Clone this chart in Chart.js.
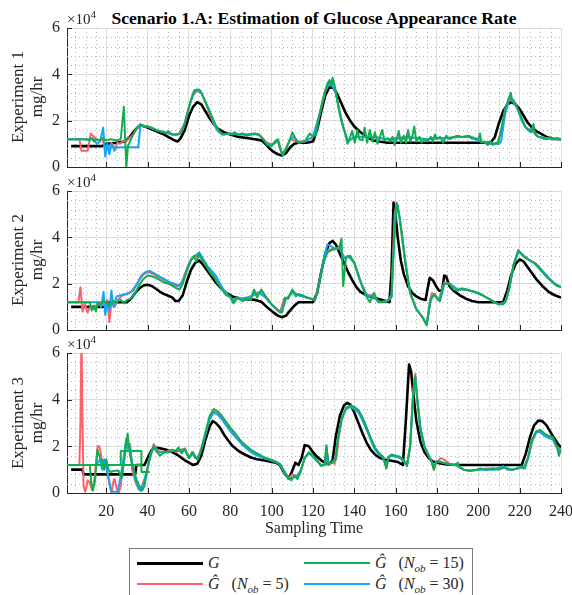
<!DOCTYPE html>
<html>
<head>
<meta charset="utf-8">
<script src="https://cdn.jsdelivr.net/npm/chart.js@4.4.1/dist/chart.umd.min.js"></script>
<style>
  html, body { margin: 0; padding: 0; background: #fff; }
  #wrap { position: relative; width: 572px; height: 595px; overflow: hidden;
          font-family: 'Liberation Serif', 'Times New Roman', serif; color: #262626; }
  canvas.panel { position: absolute; left: 0; }
  .title { position: absolute; left: 67px; width: 494px; top: 10px; text-align: center;
           font-weight: bold; font-size: 17.6px; line-height: 17px; color: #000; }
  .exp { position: absolute; left: 67px; font-size: 15px; line-height: 15px; }
  .exp sup { font-size: 11px; vertical-align: 6px; line-height: 0; }
  .ylab { position: absolute; width: 139px; height: 38px; text-align: center;
          font-size: 17px; line-height: 19px; transform: rotate(-90deg); transform-origin: center; }
  .xlab { position: absolute; left: 67px; width: 494px; top: 520px; text-align: center;
          font-size: 16px; line-height: 16px; }
  #legend { position: absolute; left: 129px; top: 548px; width: 342px; height: 50px;
            border: 1px solid #7a7a7a; background: #fff; font-size: 16px; }
  .li { position: absolute; height: 18px; line-height: 18px; }
  .li span.sw { position: absolute; left: 0; width: 66px; top: 8px; }
  .li span.tx { position: absolute; left: 71px; white-space: nowrap; }
  .li sub { font-size: 11px; line-height: 0; }
</style>
</head>
<body>
<div id="wrap">
  <div class="title">Scenario 1.A: Estimation of Glucose Appearance Rate</div>

  <canvas id="exp1" class="panel" width="572" height="180" style="top:0px"></canvas>
  <canvas id="exp2" class="panel" width="572" height="160" style="top:180px"></canvas>
  <canvas id="exp3" class="panel" width="572" height="200" style="top:340px"></canvas>

  <div class="exp" style="top:12px">&times;10<sup>4</sup></div>
  <div class="exp" style="top:175px">&times;10<sup>4</sup></div>
  <div class="exp" style="top:337px">&times;10<sup>4</sup></div>

  <div class="ylab" style="left:-43px; top:78px">Experiment 1<br>mg/hr</div>
  <div class="ylab" style="left:-43px; top:241px">Experiment 2<br>mg/hr</div>
  <div class="ylab" style="left:-43px; top:404px">Experiment 3<br>mg/hr</div>

  <div class="xlab">Sampling Time</div>

  <div id="legend">
    <div class="li" style="left:7px; top:5px"><span class="sw" style="border-top:3px solid #000"></span><span class="tx"><i>G</i></span></div>
    <div class="li" style="left:7px; top:26px"><span class="sw" style="border-top:2px solid #ff5f66"></span><span class="tx"><i>Ĝ</i>&nbsp;&nbsp;&nbsp;(<i>N</i><sub><i>ob</i></sub> = 5)</span></div>
    <div class="li" style="left:174px; top:5px"><span class="sw" style="border-top:2px solid #0fae4f"></span><span class="tx"><i>Ĝ</i>&nbsp;&nbsp;&nbsp;(<i>N</i><sub><i>ob</i></sub> = 15)</span></div>
    <div class="li" style="left:174px; top:26px"><span class="sw" style="border-top:2px solid #14a5f5"></span><span class="tx"><i>Ĝ</i>&nbsp;&nbsp;&nbsp;(<i>N</i><sub><i>ob</i></sub> = 30)</span></div>
  </div>
</div>

<script>
"use strict";

// Axis ticks (values in units of 10^4 mg/hr)
const xTickValues = [20, 40, 60, 80, 100, 120, 140, 160, 180, 200, 220, 240];
const yTickValues = [0, 2, 4, 6];

// Experiment 1: [sampling time, rate x1e4]
const exp1Truth = [[3,0.9],[18,0.9],[20,1.0],[25,1.05],[29,1.1],[31,1.25],[33,1.5],[35,1.7],[37,1.8],[40,1.7],[44,1.55],[48,1.4],[51,1.25],[53,1.15],[54.5,1.1],[56,1.25],[58,1.6],[60,2.2],[62,2.6],[64,2.8],[66,2.7],[68,2.4],[70,2.1],[72,1.85],[74,1.65],[77,1.5],[80,1.4],[84,1.3],[88,1.25],[92,1.2],[95,1.15],[97,1.0],[99,0.8],[101,0.65],[103,0.55],[105,0.5],[107,0.6],[109,0.85],[111,1.0],[113,1.05],[117,1.05],[120,1.1],[122,1.6],[124,2.4],[126,3.1],[128,3.45],[130,3.4],[132,3.1],[134,2.7],[136,2.3],[138,2.0],[140,1.75],[143,1.5],[146,1.3],[149,1.15],[152,1.1],[156,1.05],[206,1.05],[208,1.3],[210,1.9],[212,2.4],[214,2.7],[216,2.8],[218,2.7],[220,2.5],[222,2.2],[224,1.9],[226,1.7],[228,1.55],[230,1.45],[233,1.3],[236,1.22],[240,1.2]];
const exp1Nob5 = [[1,1.2],[7,1.2],[8,0.7],[11,0.7],[12.5,1.45],[14,1.3],[16,1.15],[18,1.2],[19.5,0.85],[21,0.8],[22.5,1.05],[24,0.8],[25.5,1.05],[26.5,1.0],[28,1.1],[30,1.15],[33,1.4],[35,1.7],[37,1.8],[40,1.75],[44,1.6],[48,1.5],[52,1.4],[55,1.4],[58,1.9],[60,2.6],[62,3.1],[64,3.3],[66,3.2],[68,2.8],[70,2.3],[72,1.85],[74,1.55],[76,1.4],[80,1.45],[85,1.4],[90,1.4],[94,1.4],[97,1.1],[100,0.95],[102,1.05],[103.5,1.1],[105,0.55],[107,0.8],[109,1.2],[112,1.1],[116,1.1],[120,1.3],[123,2.2],[126,3.3],[128.5,3.7],[131,3.2],[133,2.4],[135,1.6],[137,1.1],[140,1.3],[145,1.3],[150,1.3],[155,1.2],[160,1.25],[165,1.3],[170,1.25],[175,1.2],[180,1.25],[185,1.25],[190,1.3],[195,1.3],[200,1.15],[205,1.0],[209,1.0],[211,1.5],[213,2.5],[215,3.0],[217,2.8],[219,2.5],[221,2.1],[223,1.7],[225,1.6],[227,1.5],[229,1.3],[233,1.25],[236,1.2],[240,1.2]];
const exp1Nob15 = [[1,1.2],[10,1.2],[12,1.15],[13,1.25],[14,1.1],[15,1.2],[17,1.15],[18,1.25],[20,1.15],[22,1.2],[25,1.15],[27,1.2],[28.5,2.6],[29.7,0.0],[30.5,0.9],[32,1.2],[33,1.4],[35,1.7],[36.5,1.85],[38,1.75],[40,1.75],[42,1.7],[44,1.6],[46,1.55],[48,1.5],[49,1.45],[50,1.55],[52,1.4],[54,1.4],[56,1.45],[57,1.6],[59,2.2],[61,2.9],[62.5,3.3],[64,3.35],[65.5,3.3],[67,3.0],[69,2.6],[71,2.2],[73,1.8],[75,1.5],[77,1.4],[79,1.45],[81,1.4],[82,1.5],[84,1.4],[86,1.45],[88,1.35],[90,1.4],[92,1.45],[94,1.4],[96,1.2],[98,0.95],[100,0.9],[101.5,1.1],[103,1.2],[104,0.8],[105.5,0.5],[107,0.8],[108.5,1.1],[110,1.5],[111.5,1.2],[113,1.05],[116,1.1],[118.5,1.45],[120,1.3],[121.5,1.4],[123,2.2],[125,3.0],[127,3.6],[128,3.75],[128.7,3.5],[129.5,3.85],[131,3.3],[132.5,2.5],[134,1.9],[135.5,1.5],[136.7,1.0],[138,1.3],[139,1.55],[140.2,1.05],[141.5,1.6],[142.5,1.2],[144,1.15],[145,1.7],[146.2,1.05],[147.5,1.6],[148.8,1.1],[150,1.5],[151.2,1.0],[152.4,1.3],[153.5,1.6],[154.6,1.15],[156,1.25],[157.5,1.1],[158.5,1.3],[159.5,0.95],[160.5,1.2],[161.5,1.55],[162.5,1.05],[164,1.35],[165,1.05],[166,1.6],[167,1.1],[168,1.3],[169,1.75],[170,1.1],[171.5,1.3],[172.5,1.05],[174,1.2],[175.5,1.1],[177,1.3],[178,1.1],[179,1.4],[180,1.2],[181.5,1.3],[183,1.05],[184.5,1.35],[186,1.2],[188,1.3],[190,1.35],[192,1.3],[195,1.35],[198,1.25],[200,1.2],[200.8,1.45],[201.5,1.05],[203,1.1],[204.5,0.95],[206,1.1],[207,0.95],[208.5,1.05],[209.5,1.0],[211,1.6],[213,2.5],[214.5,2.9],[215.7,3.2],[216.5,2.8],[218,2.75],[219.5,2.4],[221,2.1],[222.5,1.75],[224,1.6],[225.5,1.5],[226.7,1.85],[227.5,1.4],[229,1.3],[231,1.25],[233,1.2],[234.5,1.3],[236,1.2],[238,1.25],[240,1.2]];
const exp1Nob30 = [[1,1.2],[14,1.2],[15.5,1.0],[17,1.1],[18.5,1.7],[19.5,0.45],[20.5,1.0],[21.5,0.55],[22.5,1.0],[24,0.7],[25,0.85],[35.5,0.85],[36.5,1.8],[38,1.75],[40,1.75],[44,1.6],[48,1.5],[52,1.4],[54,1.4],[56,1.45],[58,1.9],[60,2.6],[62,3.15],[64,3.3],[66,3.2],[68,2.8],[70,2.4],[72,1.9],[74,1.55],[76,1.4],[80,1.45],[84,1.4],[88,1.4],[92,1.45],[95,1.3],[98,0.95],[101,1.0],[103,1.15],[105,0.55],[107,0.8],[109,1.2],[111,1.3],[113,1.05],[117,1.15],[120,1.3],[123,2.2],[126,3.3],[128.5,3.7],[131,3.2],[133,2.3],[135,1.6],[137,1.1],[140,1.3],[145,1.3],[150,1.3],[155,1.2],[160,1.2],[165,1.3],[170,1.25],[175,1.2],[180,1.25],[185,1.25],[190,1.3],[195,1.3],[200,1.15],[205,1.0],[210,1.0],[211,1.1],[213,2.3],[215,2.9],[217,2.9],[219,2.5],[221,2.0],[223,1.7],[225,1.6],[227,1.5],[229,1.3],[233,1.25],[236,1.2],[240,1.2]];

// Experiment 2
const exp2Truth = [[3,1.0],[19,1.0],[20,1.2],[30,1.2],[32,1.35],[34,1.6],[36,1.8],[38,1.92],[40,1.95],[42,1.9],[44,1.78],[46,1.65],[48,1.55],[50,1.48],[52,1.4],[53.5,1.25],[55,1.25],[57,1.5],[59,2.1],[61,2.6],[63,2.9],[65,3.0],[67,2.8],[69,2.55],[71,2.3],[73,2.05],[75,1.85],[78,1.6],[81,1.45],[85,1.35],[89,1.32],[92,1.3],[95,1.22],[97,1.05],[99,0.9],[101,0.75],[103,0.62],[105,0.55],[107,0.62],[109,0.85],[111,1.05],[113,1.2],[120,1.2],[122,1.6],[124,2.5],[126,3.3],[128,3.75],[129.5,3.85],[131,3.7],[133,3.3],[135,2.9],[137,2.5],[139,2.15],[141,1.85],[143,1.65],[146,1.5],[150,1.38],[154,1.28],[157,1.2],[158,2.5],[159,5.5],[160,4.9],[161,4.0],[162.5,3.0],[164,2.4],[166,1.9],[168,1.6],[170,1.45],[172,1.35],[174.5,1.3],[175.5,1.8],[176.5,2.25],[178,2.15],[179.5,1.9],[181,1.7],[182.5,1.7],[183.5,2.35],[184.5,2.3],[186,1.9],[188,1.7],[191,1.5],[194,1.35],[197,1.25],[200,1.2],[212,1.2],[214,1.7],[216,2.4],[218,2.85],[220,3.05],[222,2.95],[224,2.7],[226,2.45],[228,2.2],[231,1.9],[234,1.65],[237,1.5],[240,1.4]];
const exp2Nob5 = [[1,1.2],[6.5,1.2],[7.5,1.85],[8.5,0.8],[9.5,1.15],[11,0.75],[12.5,1.05],[14,0.9],[16,1.2],[18,1.2],[19.5,1.0],[20.5,1.3],[21.5,0.35],[22.5,1.2],[24,1.0],[26,1.35],[28,1.5],[30,1.55],[32,1.65],[34,1.9],[36,2.15],[38,2.4],[40,2.5],[42,2.45],[44,2.35],[46,2.25],[48,2.15],[50,2.05],[52,1.95],[54,1.9],[56,1.95],[58,2.4],[60,2.9],[62,3.15],[64,3.2],[66,3.1],[68,2.8],[70,2.6],[72,2.4],[74,2.1],[76,1.8],[78,1.55],[80,1.4],[82,1.25],[84,1.4],[86,1.3],[89,1.35],[92,1.6],[95,1.65],[98,1.35],[101,1.0],[104,0.75],[106,1.35],[108,1.4],[110,1.7],[113,1.5],[117,1.4],[121,1.3],[123,2.0],[125,2.9],[127,3.4],[129,3.5],[131,3.5],[133,3.6],[135,3.1],[137,3.2],[140,2.9],[143,2.1],[146,1.5],[149,1.5],[152,1.2],[156,1.25],[158,1.5],[159.5,5.0],[160.5,5.5],[162,4.8],[164.5,3.0],[167,1.6],[170,0.9],[173,0.55],[175,0.25],[176.5,1.2],[177.5,1.6],[179,1.5],[181,1.3],[183.5,2.05],[186,2.0],[190,1.75],[194,1.75],[198,1.65],[202,1.5],[206,1.3],[210,1.1],[213,1.2],[215,1.8],[217,2.8],[219.5,3.4],[222,3.2],[225,3.0],[228,2.85],[231,2.55],[234,2.25],[237,2.0],[240,1.85]];
const exp2Nob15 = [[1,1.2],[12,1.2],[13,0.85],[14,1.05],[15,0.8],[16,1.2],[17,1.1],[18.5,1.25],[20,1.2],[21.5,1.05],[23,1.25],[25,1.2],[27,1.3],[28.5,1.15],[30,1.3],[32,1.35],[34,1.6],[36,1.95],[38,2.2],[40,2.35],[42,2.32],[44,2.25],[46,2.15],[48,2.05],[50,2.0],[52,1.9],[54,1.8],[55.5,1.75],[57,2.0],[59,2.55],[61,3.0],[62.5,3.2],[63.5,2.95],[65,3.3],[66.5,3.0],[68,2.85],[70,2.5],[72,2.3],[74,2.0],[76,1.75],[78,1.5],[80,1.45],[81.5,1.15],[83.5,1.4],[85,1.3],[86,1.25],[88,1.35],[90,1.3],[91.5,1.75],[93,1.4],[95,1.75],[97.5,1.4],[100,1.1],[102,0.95],[104,0.78],[105,0.75],[106.5,1.4],[108,1.35],[110,1.75],[111.7,1.45],[113,1.55],[115,1.5],[117,1.4],[119,1.35],[121,1.3],[123,2.0],[125,2.9],[127,3.35],[129,3.45],[131,3.5],[132.5,3.5],[133.8,3.95],[134.6,1.9],[136,3.1],[138,3.2],[140,2.9],[142.5,2.2],[145,1.6],[147.5,1.2],[149.5,1.6],[151.5,1.2],[154,1.2],[156,1.25],[158,1.4],[159.3,4.0],[160.5,5.45],[162,4.8],[164.5,3.0],[167,1.6],[170,0.9],[173,0.55],[175,0.2],[177,1.3],[178.7,1.55],[180.5,1.3],[181.5,1.25],[183.5,2.0],[186,2.0],[188,1.75],[190,1.7],[192,1.8],[194,1.75],[196,1.7],[198,1.65],[200,1.6],[203,1.45],[206,1.3],[209,1.15],[212,1.1],[213.5,1.3],[215,1.8],[217,2.8],[219.3,3.45],[221.5,3.2],[224,3.05],[227,2.9],[230,2.6],[233,2.3],[236,2.05],[238,1.9],[240,1.85]];
const exp2Nob30 = [[1,1.2],[16,1.2],[17.5,1.0],[18.7,1.65],[19.5,0.65],[20.5,1.2],[21.5,0.85],[22.5,1.7],[23.5,1.0],[25,1.45],[27,1.5],[29,1.55],[31,1.6],[33,1.7],[35,2.0],[37,2.35],[39,2.5],[41,2.55],[43,2.45],[45,2.35],[47,2.25],[49,2.15],[51,2.05],[53,2.0],[55,1.9],[57,2.1],[59,2.6],[61,3.05],[63,3.2],[65,3.35],[67,3.05],[69,2.75],[71,2.55],[73,2.35],[75,2.0],[77,1.7],[79,1.5],[81,1.3],[83,1.4],[85,1.35],[88,1.4],[91,1.5],[94,1.6],[97,1.4],[100,1.1],[103,0.85],[105,0.8],[107,1.35],[110,1.6],[113,1.5],[117,1.4],[121,1.3],[123,2.0],[125,3.0],[127,3.7],[129,3.6],[131,3.5],[133,3.55],[135,3.1],[137,3.2],[140,2.9],[143,2.1],[146,1.5],[149,1.45],[152,1.2],[156,1.25],[158,1.45],[160,5.2],[161,5.4],[163,4.2],[165,2.8],[167,1.6],[170,0.9],[173,0.55],[175,0.25],[177,1.4],[179,1.5],[181,1.3],[183.5,2.0],[186,2.0],[190,1.75],[194,1.75],[198,1.65],[202,1.5],[206,1.3],[210,1.1],[213,1.2],[215,1.8],[217,2.8],[219.5,3.4],[222,3.2],[225,3.0],[228,2.85],[231,2.55],[234,2.25],[237,2.0],[240,1.85]];

// Experiment 3
const exp3Truth = [[3,1.0],[8.5,1.0],[9,0.8],[34,0.8],[34.5,1.2],[38.5,1.2],[40,1.5],[42,1.85],[43.5,1.95],[46,1.92],[49,1.85],[52,1.75],[55,1.6],[58,1.4],[60,1.3],[62,1.2],[64,1.25],[66,1.6],[68,2.3],[70,2.85],[71.5,3.08],[73,3.0],[75,2.8],[77,2.5],[79,2.25],[81,2.02],[84,1.8],[87,1.65],[90,1.52],[93,1.45],[96,1.4],[99,1.35],[102,1.3],[104,1.2],[105.5,0.95],[107,0.75],[108.5,0.65],[110,0.95],[111.5,1.3],[113,1.2],[114.5,1.5],[116,2.05],[118,2.0],[120,1.75],[122,1.55],[124,1.4],[126,1.28],[128,1.25],[129.5,1.4],[131,2.4],[133,3.3],[135,3.75],[136.5,3.86],[138,3.8],[140,3.45],[142,3.0],[144,2.55],[146,2.15],[148,1.85],[150,1.65],[152,1.52],[155,1.42],[158,1.38],[161,1.33],[163.5,1.2],[165,3.2],[166.5,5.5],[167.5,5.2],[168.5,4.3],[170,3.1],[172,2.2],[174,1.75],[176,1.5],[178,1.35],[181,1.28],[185,1.22],[190,1.2],[221,1.2],[223,1.7],[225,2.4],[227,2.9],[229,3.1],[231,3.08],[233,2.9],[235,2.6],[237,2.3],[239,2.05],[240,1.95]];
const exp3Nob5 = [[1,1.2],[7,1.2],[7.5,3.0],[8,6.8],[8.5,3.0],[9,0.3],[9.8,0.05],[10.5,0.3],[11,0.55],[12,0.45],[13,0.15],[14,0.4],[15,1.2],[15.8,2.0],[16.7,2.0],[17.5,1.6],[18.3,1.2],[19.5,1.4],[20.5,0.9],[21.5,0.4],[22.5,0.0],[23.5,0.5],[24,0.6],[25,0.2],[26,0.0],[27,0.3],[28,1.1],[29.7,2.35],[30.5,2.0],[31.5,2.1],[32.5,1.0],[34,0.5],[35,0.3],[36.5,0.1],[38,0.5],[39.5,0.8],[41,1.5],[43,2.1],[45,1.8],[48,1.75],[50,1.8],[52,1.85],[54,1.75],[56,1.85],[58,1.9],[60,1.5],[62,1.75],[64,1.45],[66,1.9],[68,2.55],[70,3.2],[72,3.5],[74,3.4],[76,3.2],[78,2.95],[80,2.7],[82,2.5],[84,2.3],[86,2.1],[88,1.95],[90,1.8],[93,1.65],[96,1.52],[99,1.43],[102,1.33],[104,1.23],[106,0.92],[108,0.62],[110,0.8],[112,0.7],[114,0.95],[116,1.5],[118,1.72],[120,1.58],[122,1.38],[124,1.2],[126,1.2],[126.5,2.0],[127.5,1.22],[129,1.3],[130.5,1.25],[131.5,1.6],[132.5,2.4],[134,3.2],[136,3.62],[138,3.72],[140,3.65],[142,3.5],[144,3.15],[146,2.75],[148,2.3],[150,1.9],[152,1.68],[154,1.52],[155.5,1.1],[156.5,1.52],[158,1.62],[160,1.58],[162,1.52],[164,1.38],[165.5,1.2],[167,2.0],[168.5,4.4],[169.5,5.1],[170.5,4.0],[172,2.75],[174,1.95],[176,1.6],[177.5,1.3],[178.5,1.0],[179.5,1.3],[182,1.5],[184,1.4],[186,1.25],[189,1.2],[191,1.1],[193,1.0],[196,0.95],[200,1.0],[204,1.05],[208,1.05],[212,1.1],[216,1.0],[219,1.05],[222,1.1],[224,1.5],[226,2.25],[228,2.6],[230,2.65],[232,2.5],[234,2.4],[236,2.35],[238,1.95],[240,1.85]];
const exp3Nob15 = [[1,1.2],[12,1.2],[12.7,0.5],[13.5,0.1],[14.5,0.5],[15.7,1.85],[17,1.5],[18,1.4],[19,1.0],[20,1.45],[21,1.0],[22,0.9],[24,0.95],[26,0.95],[27.5,0.65],[29,1.6],[30.3,2.55],[31.5,1.6],[33,1.1],[34.5,0.6],[36,0.3],[37.3,0.1],[38.5,0.3],[40,1.1],[41.5,1.6],[43,2.0],[44.5,1.75],[46,1.6],[48,1.75],[50,1.75],[52,1.85],[53.5,1.8],[55,1.95],[56.5,1.7],[58,1.9],[60,1.5],[61.5,1.75],[63,1.5],[64.5,1.45],[66,1.9],[68,2.6],[70,3.3],[72,3.6],[74,3.5],[76,3.3],[78,3.05],[80,2.8],[82,2.6],[84,2.35],[86,2.15],[88,2.0],[90,1.85],[93,1.7],[96,1.55],[99,1.45],[102,1.35],[104,1.25],[106,0.95],[108,0.65],[109.5,0.55],[111,0.75],[112.5,0.6],[114,0.9],[116,1.5],[118,1.75],[120,1.6],[122,1.4],[124,1.15],[125.5,1.2],[126.5,2.05],[127.5,1.2],[129,1.3],[131,1.45],[132,2.3],[134,3.2],[136,3.65],[138,3.75],[140,3.7],[142,3.55],[144,3.25],[146,2.8],[148,2.35],[150,1.95],[152,1.7],[154,1.55],[155.5,1.05],[156.5,1.55],[158,1.65],[160,1.6],[162,1.55],[164,1.4],[165.5,1.15],[167,2.0],[168.5,4.2],[169.5,5.0],[170.5,4.0],[172,2.8],[174,2.0],[176,1.6],[177.5,1.35],[178.5,1.0],[179.5,1.35],[181,1.35],[183,1.3],[185,1.25],[187,1.2],[189,1.2],[190,1.3],[191,1.1],[193,1.0],[196,0.95],[199,1.0],[201,1.05],[204,1.0],[207,1.05],[210,1.0],[213,1.1],[216,1.0],[219,1.05],[221,1.15],[222.5,1.05],[224,1.5],[226,2.3],[228,2.65],[230,2.7],[232,2.55],[234,2.45],[236,2.4],[238,2.0],[239,1.6],[240,1.9]];
const exp3Nob15Hold = [[1,1.2],[27,1.2],[27,1.8],[37,1.8],[37,1.2],[27,1.2],[37,1.2],[37,0.9],[41,0.9]];
const exp3Nob30 = [[1,1.2],[15,1.2],[16,1.3],[17,1.45],[18,1.0],[19,1.45],[20,1.1],[21,0.7],[22.5,0.05],[25.5,0.05],[26.5,0.5],[28,1.3],[29.5,2.2],[30.5,1.9],[31.5,2.0],[32.5,1.3],[34,0.6],[35.5,0.2],[36.5,0.1],[38,0.4],[40,1.1],[41.5,1.7],[43,2.0],[45,1.75],[48,1.75],[50,1.75],[52,1.8],[54,1.8],[56,1.8],[58,1.85],[60,1.5],[62,1.7],[64,1.45],[66,1.85],[68,2.5],[70,3.15],[72,3.45],[74,3.35],[76,3.15],[78,2.9],[80,2.65],[82,2.45],[84,2.25],[86,2.05],[88,1.9],[90,1.75],[93,1.6],[96,1.5],[99,1.42],[102,1.32],[104,1.22],[106,0.9],[108,0.6],[110,0.65],[112,0.7],[114,0.95],[116,1.5],[118,1.7],[120,1.55],[122,1.35],[124,1.2],[126,1.2],[126.5,1.9],[127.5,1.25],[129,1.3],[131,1.5],[132,2.3],[134,3.2],[136,3.6],[138,3.68],[140,3.6],[142,3.45],[144,3.1],[146,2.7],[148,2.25],[150,1.85],[152,1.65],[154,1.5],[155.5,1.1],[156.5,1.5],[158,1.6],[160,1.55],[162,1.5],[164,1.35],[165.5,1.2],[167,2.0],[168.5,4.3],[169.5,4.9],[170.5,3.9],[172,2.7],[174,1.95],[176,1.6],[177.5,1.3],[178.5,1.05],[179.5,1.35],[181,1.35],[185,1.25],[189,1.2],[191,1.1],[193,1.0],[196,0.95],[200,1.0],[204,1.0],[208,1.0],[212,1.15],[214,1.0],[217,1.0],[220,1.1],[222,1.05],[224,1.45],[226,2.2],[228,2.6],[230,2.6],[232,2.45],[234,2.35],[236,2.3],[238,1.95],[240,1.8]];

const COLORS = {
    truth: '#000000',
    nob5: '#ff5f66',
    nob15: '#0fae4f',
    nob30: '#14a5f5'
};
const FONT = 'Liberation Serif, Times New Roman, serif';

const toXY = pairs => pairs.map(([x, y]) => ({ x: x, y: y }));

function lineDataset(pairs, color, width, order) {
    return {
        data: toXY(pairs),
        borderColor: color,
        borderWidth: width,
        pointRadius: 0,
        tension: 0,
        fill: false,
        order: order,
        borderJoinStyle: 'round'
    };
}

/**
 * Dotted minor grid plus small inward tick marks (MATLAB style)
 */
const minorGridPlugin = {
    id: 'minorGrid',
    beforeDatasetsDraw(chart) {
        const { ctx, chartArea: a, scales: { x, y } } = chart;
        ctx.save();
        ctx.strokeStyle = '#b9b9b9';
        ctx.lineWidth = 1;
        ctx.setLineDash([1, 3]);
        ctx.beginPath();
        for (let v = 5; v < 240; v += 5) {
            if (v % 20 === 0) continue;
            const px = Math.round(x.getPixelForValue(v)) + 0.5;
            ctx.moveTo(px, a.top);
            ctx.lineTo(px, a.bottom);
        }
        for (let k = 1; k < 15; k++) {
            if (k % 5 === 0) continue;
            const py = Math.round(y.getPixelForValue(k * 0.4)) + 0.5;
            ctx.moveTo(a.left, py);
            ctx.lineTo(a.right, py);
        }
        ctx.stroke();

        // inward ticks
        ctx.setLineDash([]);
        ctx.strokeStyle = '#262626';
        ctx.beginPath();
        xTickValues.forEach(v => {
            const px = Math.round(x.getPixelForValue(v)) + 0.5;
            ctx.moveTo(px, a.bottom);
            ctx.lineTo(px, a.bottom - 5);
        });
        yTickValues.forEach(v => {
            const py = Math.round(y.getPixelForValue(v)) + 0.5;
            ctx.moveTo(a.left, py);
            ctx.lineTo(a.left + 5, py);
        });
        ctx.stroke();
        ctx.restore();
    }
};

function initPanel(id, padTop, xHeight, showX, truth, nob5, nob15, nob30, extra) {
    const datasets = [
        lineDataset(truth, COLORS.truth, 2.6, 4),
        lineDataset(nob5, COLORS.nob5, 2, 3),
        lineDataset(nob30, COLORS.nob30, 2, 2),
        lineDataset(nob15, COLORS.nob15, 2, 1)
    ];
    if (extra) datasets.push(lineDataset(extra, COLORS.nob15, 2, 1));

    const tickFont = { family: FONT, size: 16 };

    new Chart(document.getElementById(id), {
        type: 'line',
        data: { datasets: datasets },
        options: {
            responsive: false,
            animation: false,
            devicePixelRatio: 1,
            layout: { padding: { top: padTop, right: 11, left: 0, bottom: 0 } },
            plugins: { legend: { display: false }, tooltip: { enabled: false } },
            scales: {
                x: {
                    type: 'linear',
                    min: 1,
                    max: 240,
                    afterBuildTicks: s => { s.ticks = xTickValues.map(v => ({ value: v })); },
                    afterFit: s => { s.height = xHeight; s.paddingLeft = 0; s.paddingRight = 0; },
                    grid: { color: '#dcdcdc', drawTicks: false },
                    border: { color: '#262626', width: 1 },
                    ticks: { display: showX, padding: 9, font: tickFont, color: '#262626', maxRotation: 0 }
                },
                y: {
                    min: 0,
                    max: 6,
                    afterBuildTicks: s => { s.ticks = yTickValues.map(v => ({ value: v })); },
                    afterFit: s => { s.width = 67; s.paddingTop = 0; s.paddingBottom = 0; },
                    grid: { color: '#dcdcdc', drawTicks: false },
                    border: { color: '#262626', width: 1 },
                    ticks: { padding: 7, font: tickFont, color: '#262626' }
                }
            }
        },
        plugins: [minorGridPlugin]
    });
}

initPanel('exp1', 28, 13, false, exp1Truth, exp1Nob5, exp1Nob15, exp1Nob30);
initPanel('exp2', 11, 10, false, exp2Truth, exp2Nob5, exp2Nob15, exp2Nob30);
initPanel('exp3', 13, 47, true, exp3Truth, exp3Nob5, exp3Nob15, exp3Nob30, exp3Nob15Hold);
</script>
</body>
</html>
